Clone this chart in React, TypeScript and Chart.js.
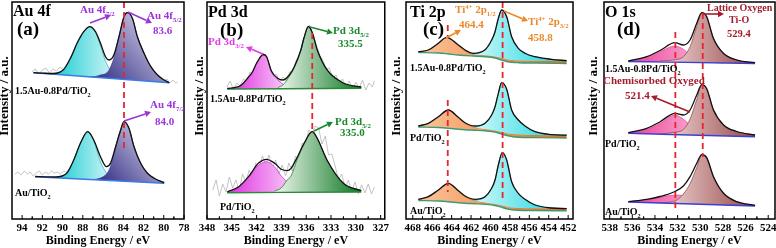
import React, { useEffect, useRef } from "react";
import { Chart, registerables } from "chart.js";

Chart.register(...registerables);

type P = [number, number];
const FONT = "'Liberation Serif', 'Times New Roman', Times, serif";

// ---------------- (a) Au 4f ----------------
const aTopBase: P[] = [[92.88, 145.3], [79.46, 135.3]];
const aTopCyan: P[] = [[90.9, 144.2], [89.9, 148], [89.23, 159.5], [88.57, 174.5], [87.91, 186], [87.31, 191], [86.75, 185.5], [86.25, 172], [85.76, 157], [85.42, 150], [84.93, 142.5], [84.43, 139.6], [83.93, 138.7]];
const aTopPurple: P[] = [[87.31, 141.2], [86.75, 141.5], [86.25, 143.1], [85.76, 144.3], [85.42, 147.7], [84.93, 159.9], [84.43, 180.7], [83.93, 201.3], [83.6, 205.3], [83.1, 199.7], [82.61, 181.3], [81.95, 164.7], [81.28, 151.3], [80.62, 143], [79.96, 138], [79.46, 135.4]];
const aTopEnv: P[] = [[92.88, 145.3], [91.9, 144.8], [90.9, 144.5], [89.9, 148.5], [89.23, 159.7], [88.57, 174.7], [87.91, 186.3], [87.31, 191.3], [86.75, 186.3], [86.25, 174.7], [85.76, 161.3], [85.42, 158], [84.93, 163], [84.43, 181.3], [83.93, 201.3], [83.6, 205.3], [83.1, 199.7], [82.61, 181.3], [81.95, 164.7], [81.28, 151.3], [80.62, 143], [79.96, 138], [79.46, 135.3]];
const aTopRaw: P[] = [[93.05, 146], [92.7, 149], [92.35, 144], [92.0, 148], [91.65, 150], [91.3, 145], [90.95, 149], [90.6, 147], [90.25, 151], [89.9, 148], [89.6, 153], [89.3, 158], [89.0, 165], [88.7, 172], [88.4, 179], [88.1, 184], [87.8, 188], [87.5, 191], [87.2, 190], [86.9, 187], [86.6, 181], [86.3, 174], [86.0, 166], [85.7, 160], [85.4, 158], [85.1, 160], [84.8, 167], [84.5, 178], [84.2, 191], [83.9, 201], [83.6, 205], [83.3, 203], [83.0, 196], [82.7, 185], [82.4, 176], [82.1, 168], [81.8, 161], [81.5, 155], [81.2, 151], [80.9, 146], [80.6, 143], [80.3, 141], [80.0, 137], [79.7, 139], [79.4, 135], [79.1, 138], [78.8, 135], [78.63, 136]];

const aBotBase: P[] = [[92.71, 41.3], [79.96, 34.7]];
const aBotCyan: P[] = [[90.7, 40.4], [89.57, 45], [88.9, 58], [88.24, 74.7], [87.51, 86.3], [86.92, 76.5], [86.25, 56], [85.66, 45], [85.26, 40.5], [84.76, 38.2], [84.26, 37]];
const aBotPurple: P[] = [[86.92, 38.4], [86.25, 40], [85.66, 44], [85.26, 51.6], [84.76, 70.3], [84.26, 88], [83.93, 96.3], [83.44, 89.7], [82.94, 71.3], [82.28, 54.7], [81.61, 44.7], [80.95, 39.7], [79.96, 35]];
const aBotEnv: P[] = [[92.71, 41.5], [91.7, 41.2], [90.7, 41], [89.57, 45], [88.9, 58], [88.24, 74.7], [87.51, 86.3], [86.92, 78], [86.25, 61.3], [85.66, 51.3], [85.26, 54.7], [84.76, 71.3], [84.26, 88], [83.93, 96.3], [83.44, 89.7], [82.94, 71.3], [82.28, 54.7], [81.61, 44.7], [80.95, 39.7], [79.96, 35.2]];
const aBotRaw: P[] = [[94.7, 44], [94.4, 46], [94.1, 43], [93.8, 47], [93.5, 44], [93.2, 46], [92.9, 42], [92.6, 45], [92.3, 47], [92.0, 43], [91.7, 46], [91.4, 44], [91.1, 47], [90.8, 45], [90.5, 46], [90.2, 44], [89.9, 47], [89.6, 46], [89.3, 50], [89.0, 55], [88.7, 63], [88.4, 71], [88.1, 78], [87.8, 84], [87.5, 87], [87.2, 84], [86.9, 77], [86.6, 68], [86.3, 61], [86.0, 55], [85.7, 51], [85.4, 53], [85.1, 60], [84.8, 70], [84.5, 81], [84.2, 91], [83.9, 96], [83.6, 93], [83.3, 85], [83.0, 74], [82.7, 63], [82.4, 56], [82.1, 50], [81.8, 46], [81.5, 43], [81.2, 41], [80.9, 39], [80.6, 38], [80.3, 37], [79.9, 36]];
const aDash: P[] = [[83.93, 216], [83.93, 70]];

// ---------------- (b) Pd 3d ----------------
const bTopBase: P[] = [[345.55, 129], [329.34, 129.7]];
const bTopMag: P[] = [[345.0, 129.5], [344.16, 131], [343.77, 133], [342.98, 140.5], [342.58, 144.5], [341.99, 154.5], [341.2, 163], [340.8, 161], [340.21, 146], [339.42, 138], [338.83, 134], [338.04, 131], [337.44, 129.8]];
const bTopGreen: P[] = [[339.42, 130.5], [338.83, 133], [338.04, 141.5], [337.44, 150.5], [336.65, 167.5], [336.26, 180], [335.74, 191.3], [335.27, 185], [334.67, 168], [333.49, 148], [331.51, 134.7], [329.34, 130.7]];
const bTopEnv: P[] = [[345.55, 129.5], [344.16, 131.5], [343.77, 133.5], [342.98, 141], [342.58, 145], [341.99, 155], [341.2, 163.5], [340.8, 161.5], [340.21, 147], [339.42, 139.5], [338.83, 138], [338.04, 143], [337.44, 151.3], [336.65, 168], [336.26, 180.5], [335.74, 191.5], [335.27, 185.5], [334.67, 168.3], [333.49, 148.3], [331.51, 135], [329.34, 131]];
const bTopRaw: P[] = [[345.6, 131], [345.2, 137], [344.8, 128], [344.4, 135], [344.0, 132], [343.6, 139], [343.2, 136], [342.8, 146], [342.4, 144], [342.0, 156], [341.6, 158], [341.2, 165], [340.8, 159], [340.4, 152], [340.0, 141], [339.6, 144], [339.2, 136], [338.8, 141], [338.4, 137], [338.0, 146], [337.6, 147], [337.2, 158], [336.8, 163], [336.4, 177], [336.0, 186], [335.6, 193], [335.2, 183], [334.8, 174], [334.4, 163], [334.0, 158], [333.6, 149], [333.2, 150], [332.8, 140], [332.4, 143], [332.0, 135], [331.6, 139], [331.2, 131], [330.8, 137], [330.4, 129], [330.0, 136], [329.6, 130], [329.2, 138], [328.8, 128], [328.4, 135], [328.0, 131], [327.75, 137]];

const bBotBase: P[] = [[345.55, 25.3], [329.34, 26]];
const bBotMag: P[] = [[345.55, 25.5], [344.16, 30.5], [342.98, 40], [341.79, 52.5], [340.8, 56.3], [339.81, 51], [339.02, 42], [338.31, 36], [337.84, 30], [337.05, 27], [336.26, 25.8]];
const bBotGreen: P[] = [[339.81, 27], [339.02, 30], [338.31, 38], [337.84, 42], [337.05, 59.5], [336.26, 73.5], [335.27, 86.3], [334.67, 79.7], [333.49, 58], [331.51, 34.7], [329.34, 27.3]];
const bBotEnv: P[] = [[345.55, 26], [344.16, 31.3], [342.98, 41.3], [341.79, 54.7], [340.8, 58.7], [339.81, 54.7], [339.02, 48.7], [338.31, 47.3], [337.84, 49.7], [337.05, 61.3], [336.26, 74.7], [335.27, 86.3], [334.67, 79.7], [333.49, 58], [331.51, 34.7], [329.34, 27.3]];
const bBotRaw: P[] = [[347.3, 28], [346.9, 38], [346.5, 22], [346.1, 34], [345.7, 26], [345.3, 41], [344.9, 30], [344.5, 38], [344.1, 27], [343.7, 44], [343.3, 36], [342.9, 48], [342.5, 40], [342.1, 55], [341.7, 50], [341.3, 62], [340.9, 54], [340.5, 63], [340.1, 49], [339.7, 58], [339.3, 44], [338.9, 53], [338.5, 42], [338.1, 55], [337.7, 47], [337.3, 62], [336.9, 58], [336.5, 75], [336.1, 72], [335.7, 88], [335.3, 84], [334.9, 92], [334.5, 90], [334.1, 74], [333.7, 82], [333.3, 63], [332.9, 64], [332.5, 52], [332.1, 38], [331.7, 44], [331.3, 30], [330.9, 38], [330.5, 26], [330.1, 36], [329.7, 24], [329.3, 33], [328.9, 25], [328.5, 34], [328.1, 24], [327.75, 31]];
const bDash: P[] = [[335.27, 185], [335.27, 86]];

// ---------------- (c) Ti 2p ----------------
const cTopBase: P[] = [[467.43, 165.5], [465.37, 165], [464.51, 164.3], [463.31, 163], [462.62, 162.5], [461.77, 162], [460.56, 161.3], [459.53, 160], [458.85, 158], [458.33, 156.5], [457.82, 155.7], [457.13, 155.3], [455.41, 155], [452.15, 154.5]];
const cTopOrange: P[] = [[467.43, 166.2], [466.4, 167.8], [465.37, 174.5], [464.51, 180.5], [463.31, 172.5], [462.62, 167], [461.77, 163.8], [460.56, 162.8], [459.53, 161.5], [458.85, 160], [458.33, 158.8], [457.82, 158], [457.13, 157.6], [455.41, 157.2], [452.15, 156.8]];
const cTopCyan: P[] = [[461.77, 163.9], [460.56, 168], [459.88, 177.5], [459.53, 186], [459.19, 199.5], [458.85, 208], [458.33, 201.3], [457.82, 181.3], [457.13, 169.7], [456.44, 164.5], [455.41, 161], [453.7, 158.5], [452.15, 157.2]];
const cTopEnv: P[] = [[467.43, 166.3], [466.4, 168], [465.37, 174.7], [464.51, 180.7], [463.31, 173], [462.62, 168], [461.77, 164.7], [460.56, 168.2], [459.88, 178], [459.53, 186.3], [459.19, 199.7], [458.85, 208], [458.33, 201.3], [457.82, 181.3], [457.13, 169.7], [456.44, 164.7], [455.41, 161.3], [453.7, 158.7], [452.15, 157.3]];

const cMidBase: P[] = [[467.43, 91], [465.37, 90.5], [464.34, 89.8], [463.31, 88.8], [462.62, 88.3], [461.59, 87.8], [460.56, 87.2], [459.53, 86], [458.85, 84], [458.33, 82.5], [457.82, 81.5], [457.13, 80.8], [455.41, 80.4], [452.15, 80]];
const cMidOrange: P[] = [[467.43, 92], [466.4, 94.5], [465.37, 101], [464.34, 107.8], [463.31, 100.3], [462.62, 94.5], [461.59, 90.5], [460.56, 89], [459.53, 87.6], [458.85, 86], [458.33, 84.8], [457.82, 84], [457.13, 83.5], [455.41, 83.1], [452.15, 82.7]];
const cMidCyan: P[] = [[461.59, 90.6], [460.56, 94.5], [459.88, 103], [459.53, 111.3], [459.19, 124.7], [458.85, 135.3], [458.33, 128.7], [457.82, 108], [457.13, 98], [456.44, 91.8], [455.41, 86.3], [453.7, 83.4], [452.15, 82.8]];
const cMidEnv: P[] = [[467.43, 92], [466.4, 94.7], [465.37, 101.3], [464.34, 108], [463.31, 100.7], [462.62, 95.3], [461.59, 92], [460.56, 94.7], [459.88, 103], [459.53, 111.3], [459.19, 124.7], [458.85, 135.3], [458.33, 128.7], [457.82, 108], [457.13, 98], [456.44, 92], [455.41, 86.3], [453.7, 83.4], [452.15, 82.8]];

const cBotBase: P[] = [[467.43, 17.5], [465.37, 17], [464.34, 16.3], [463.31, 15.3], [462.62, 14.8], [461.59, 14.3], [460.56, 13.7], [459.53, 12.5], [458.78, 10.5], [458.33, 9.2], [457.82, 8.3], [457.13, 7.8], [455.41, 7.5], [452.15, 7.2]];
const cBotOrange: P[] = [[467.43, 18.7], [466.4, 21], [465.37, 27.7], [464.34, 34.5], [463.31, 27], [462.62, 21.5], [461.59, 17.2], [460.56, 15.6], [459.53, 14], [458.78, 12.5], [458.33, 11.3], [457.82, 10.5], [457.13, 10], [455.41, 9.7], [452.15, 9.3]];
const cBotCyan: P[] = [[461.59, 17.3], [460.56, 21], [459.88, 29.5], [459.53, 38], [459.19, 53], [458.78, 65.3], [458.33, 58], [457.82, 36.3], [457.13, 24.7], [456.44, 18.5], [455.41, 13], [453.7, 10], [452.15, 9.4]];
const cBotEnv: P[] = [[467.43, 18.7], [466.4, 21.3], [465.37, 28], [464.34, 34.7], [463.31, 27.3], [462.62, 22], [461.59, 18.7], [460.56, 21.3], [459.88, 29.7], [459.53, 38], [459.19, 53], [458.78, 65.3], [458.33, 58], [457.82, 36.3], [457.13, 24.7], [456.44, 18.7], [455.41, 13], [453.7, 10], [452.15, 9.4]];
const cDashO1: P[] = [[464.4, 193], [464.4, 181]];
const cDashO2: P[] = [[464.4, 118], [464.4, 26]];
const cDashC: P[] = [[458.75, 216], [458.75, 18]];

// ---------------- (d) O 1s ----------------
const dTopBase: P[] = [[536.35, 156.5], [525.16, 154.5]];
const dTopPink: P[] = [[536.35, 157], [534.73, 160.7], [533.55, 166.3], [532.23, 172], [531.49, 168.7], [530.9, 163], [530.31, 158.7], [529.43, 156.3], [528.84, 155.5], [527.96, 155.1]];
const dTopBrown: P[] = [[533.55, 157], [532.23, 158.3], [531.49, 161.3], [530.9, 171.3], [530.31, 191.5], [529.87, 204.7], [529.43, 201], [528.84, 179.7], [527.96, 164.7], [526.78, 158], [525.16, 155.3]];
const dTopEnv: P[] = [[536.35, 157], [534.73, 161.3], [533.55, 167.5], [532.23, 175.3], [531.49, 173], [530.9, 178], [530.31, 194.7], [529.87, 205.3], [529.43, 201.3], [528.84, 179.7], [527.96, 164.7], [526.78, 158], [525.16, 155.3]];

const dMidBase: P[] = [[536.35, 84.7], [525.16, 81.3]];
const dMidPink: P[] = [[536.35, 85.3], [534.73, 88.7], [533.55, 94.7], [532.23, 103], [531.49, 98.7], [530.9, 93], [530.31, 88], [529.43, 85.3], [528.84, 84], [527.96, 83]];
const dMidBrown: P[] = [[533.55, 84], [532.23, 85.8], [531.49, 88.5], [530.9, 99], [530.31, 118.5], [529.87, 133], [529.43, 129], [528.84, 108], [527.96, 93], [526.78, 86.3], [525.16, 83]];
const dMidEnv: P[] = [[536.35, 85.3], [534.73, 89.7], [533.55, 96.3], [532.23, 104.7], [531.49, 103], [530.9, 108], [530.31, 123], [529.87, 133.3], [529.43, 129.3], [528.84, 108.3], [527.96, 93.3], [526.78, 86.5], [525.16, 83]];

const dBotBase: P[] = [[536.35, 16], [525.16, 12]];
const dBotPink: P[] = [[536.35, 16.3], [534.73, 18], [533.55, 20.7], [532.08, 23], [530.9, 20.7], [530.31, 18.7], [529.43, 16.3], [528.84, 15], [527.96, 14]];
const dBotBrown: P[] = [[533.55, 15.2], [532.23, 17], [531.49, 24], [530.9, 34.5], [530.31, 50.5], [529.87, 63], [529.43, 60], [528.84, 41.3], [527.96, 24.7], [526.78, 16.3], [525.16, 12.5]];
const dBotEnv: P[] = [[536.35, 16.3], [534.73, 18.7], [533.55, 21.5], [532.23, 26.5], [531.49, 32], [530.9, 41.3], [530.31, 54.7], [529.87, 63.3], [529.43, 60.3], [528.84, 41.6], [527.96, 25], [526.78, 16.3], [525.16, 12.6]];
const dDashBrown: P[] = [[529.78, 205], [529.78, 61]];
const dDashPink: P[] = [[532.2, 186], [532.2, 8]];

// ---------------- styling / layout ----------------
const VIOLET = "#9b35d8";
const MAG = "#e33be3";
const GREEN = "#16892a";
const ORANGE = "#ec8a2c";
const DRED = "#a51d2d";

type Comp = { pts: P[]; c0: string; c1: string; mode: string; line: string; onPrev?: boolean };
type Spec = { base: P[]; baseColor: string; comps: Comp[]; env: P[]; raw?: P[] };
type Seg = [string, string?];
type Txt = { x: number; y: number; s: number; c?: string; segs: Seg[] };

const cyanA = (pts: P[]): Comp => ({ pts, c0: "#19ccd3", c1: "#effcfc", mode: "h", line: "#17b6bd" });
const purpA = (pts: P[]): Comp => ({ pts, c0: "#28257f", c1: "#efeaf9", mode: "d", line: "#463a9a" });
const magB = (pts: P[]): Comp => ({ pts, c0: "#e12fe1", c1: "#fce6fc", mode: "h", line: "#d21fd2" });
const greenB = (pts: P[]): Comp => ({ pts, c0: "#f0f9f0", c1: "#0a7520", mode: "h", line: "#0a7520" });
const orangeC = (pts: P[]): Comp => ({ pts, c0: "#fac59c", c1: "#ec6a1c", mode: "h", line: "#e0691f" });
const cyanC = (pts: P[]): Comp => ({ pts, c0: "#cdf8f9", c1: "#0fd4de", mode: "h", line: "#0fc4ce", onPrev: true });
const pinkD = (pts: P[]): Comp => ({ pts, c0: "#ef3d97", c1: "#fad3e6", mode: "h", line: "#e0408f" });
const brownD = (pts: P[]): Comp => ({ pts, c0: "#f4dcdc", c1: "#964646", mode: "h", line: "#8a3f3f" });

const sample = (a: string): Seg[] => [[a], ["2", "sub"]];

const PANELS = [
  {
    key: "a", left: 0, width: 198, frameL: 12, frameR: 184, xMin: 78, xMax: 95, step: 2, yTitleX: 5,
    specs: [
      { base: aTopBase, baseColor: "#3a7be6", comps: [cyanA(aTopCyan), purpA(aTopPurple)], env: aTopEnv, raw: aTopRaw },
      { base: aBotBase, baseColor: "#3a7be6", comps: [cyanA(aBotCyan), purpA(aBotPurple)], env: aBotEnv, raw: aBotRaw },
    ] as Spec[],
    dashes: [aDash],
    texts: [
      { x: 13, y: 16, s: 16, segs: [["Au 4f"]] },
      { x: 17, y: 35, s: 19, segs: [["(a)"]] },
      { x: 80, y: 13, s: 11, c: VIOLET, segs: [["Au 4f"], ["7/2", "sub"]] },
      { x: 147, y: 19, s: 11, c: VIOLET, segs: [["Au 4f"], ["5/2", "sub"]] },
      { x: 153, y: 34, s: 11, c: VIOLET, segs: [["83.6"]] },
      { x: 150, y: 108, s: 11, c: VIOLET, segs: [["Au 4f"], ["7/2", "sub"]] },
      { x: 155, y: 125, s: 11, c: VIOLET, segs: [["84.0"]] },
      { x: 15, y: 94, s: 10, segs: sample("1.5Au-0.8Pd/TiO") },
      { x: 15, y: 196, s: 10, segs: sample("Au/TiO") },
    ] as Txt[],
    arrows: [[90, 23, 111, 15], [128, 12, 152, 23], [124, 121, 151, 112]],
    arrowColor: VIOLET,
  },
  {
    key: "b", left: 188, width: 204, frameL: 207, frameR: 387, xMin: 326.5, xMax: 348, step: 3, yTitleX: 200,
    specs: [
      { base: bTopBase, baseColor: "#2a8a3a", comps: [magB(bTopMag), greenB(bTopGreen)], env: bTopEnv, raw: bTopRaw },
      { base: bBotBase, baseColor: "#2a8a3a", comps: [magB(bBotMag), greenB(bBotGreen)], env: bBotEnv, raw: bBotRaw },
    ] as Spec[],
    dashes: [bDash],
    texts: [
      { x: 208, y: 17, s: 16, segs: [["Pd 3d"]] },
      { x: 220, y: 36, s: 19, segs: [["(b)"]] },
      { x: 208, y: 45, s: 11, c: MAG, segs: [["Pd 3d"], ["3/2", "sub"]] },
      { x: 333, y: 34, s: 11, c: GREEN, segs: [["Pd 3d"], ["5/2", "sub"]] },
      { x: 338, y: 47, s: 11, c: GREEN, segs: [["335.5"]] },
      { x: 335, y: 125, s: 11, c: GREEN, segs: [["Pd 3d"], ["5/2", "sub"]] },
      { x: 340, y: 136, s: 11, c: GREEN, segs: [["335.0"]] },
      { x: 210, y: 102, s: 10, segs: sample("1.5Au-0.8Pd/TiO") },
      { x: 220, y: 210, s: 10, segs: sample("Pd/TiO") },
    ] as Txt[],
    arrows: [[263, 54, 246, 47, MAG], [310, 27, 333, 33, GREEN], [314, 131, 333, 122, GREEN]],
    arrowColor: GREEN,
  },
  {
    key: "c", left: 386, width: 204, frameL: 406, frameR: 573, xMin: 451.5, xMax: 468.7, step: 2, yTitleX: 397,
    specs: [
      { base: cTopBase, baseColor: "#3d9b73", comps: [orangeC(cTopOrange), cyanC(cTopCyan)], env: cTopEnv },
      { base: cMidBase, baseColor: "#3d9b73", comps: [orangeC(cMidOrange), cyanC(cMidCyan)], env: cMidEnv },
      { base: cBotBase, baseColor: "#3d9b73", comps: [orangeC(cBotOrange), cyanC(cBotCyan)], env: cBotEnv },
    ] as Spec[],
    dashes: [cDashO1, cDashO2, cDashC],
    texts: [
      { x: 410, y: 17, s: 16, segs: [["Ti 2p"]] },
      { x: 423, y: 35, s: 19, segs: [["(c)"]] },
      { x: 455, y: 13, s: 11, c: ORANGE, segs: [["Ti"], ["4+", "sup"], [" 2p"], ["1/2", "sub"]] },
      { x: 459, y: 28, s: 11, c: ORANGE, segs: [["464.4"]] },
      { x: 528, y: 25, s: 11, c: ORANGE, segs: [["Ti"], ["4+", "sup"], [" 2p"], ["3/2", "sub"]] },
      { x: 528, y: 41, s: 11, c: ORANGE, segs: [["458.8"]] },
      { x: 410, y: 71, s: 10, segs: sample("1.5Au-0.8Pd/TiO") },
      { x: 410, y: 141, s: 10, segs: sample("Pd/TiO") },
      { x: 410, y: 214, s: 10, segs: sample("Au/TiO") },
    ] as Txt[],
    arrows: [[446, 38, 461, 30], [504, 11, 528, 21]],
    arrowColor: ORANGE,
  },
  {
    key: "d", left: 584, width: 202, frameL: 604, frameR: 775, xMin: 523.4, xMax: 538.5, step: 2, yTitleX: 594,
    specs: [
      { base: dTopBase, baseColor: "#3b3fd6", comps: [pinkD(dTopPink), brownD(dTopBrown)], env: dTopEnv },
      { base: dMidBase, baseColor: "#3b3fd6", comps: [pinkD(dMidPink), brownD(dMidBrown)], env: dMidEnv },
      { base: dBotBase, baseColor: "#3b3fd6", comps: [pinkD(dBotPink), brownD(dBotBrown)], env: dBotEnv },
    ] as Spec[],
    dashes: [dDashBrown, dDashPink],
    texts: [
      { x: 605, y: 17, s: 16, segs: [["O 1s"]] },
      { x: 617, y: 35, s: 19, segs: [["(d)"]] },
      { x: 707, y: 11, s: 10, c: DRED, segs: [["Lattice Oxygen"]] },
      { x: 729, y: 23, s: 10, c: DRED, segs: [["Ti-O"]] },
      { x: 727, y: 37, s: 10.5, c: DRED, segs: [["529.4"]] },
      { x: 603, y: 84, s: 11, c: DRED, segs: [["Chemisorbed Oxyged"]] },
      { x: 625, y: 99, s: 11, c: DRED, segs: [["521.4"]] },
      { x: 605, y: 72, s: 10, segs: sample("1.5Au-0.8Pd/TiO") },
      { x: 605, y: 147, s: 10, segs: sample("Pd/TiO") },
      { x: 605, y: 215, s: 10, segs: sample("Au/TiO") },
    ] as Txt[],
    arrows: [[703, 14, 724, 14], [690, 112, 651, 96]],
    arrowColor: DRED,
  },
];

type Panel = (typeof PANELS)[number];

const toXY = (pts: P[]) => pts.map(([x, y]) => ({ x, y }));

function gradFill(pts: P[], c0: string, c1: string, mode: string) {
  const es = pts.map((p) => p[0]);
  const vs = pts.map((p) => p[1]);
  const eMax = Math.max(...es), eMin = Math.min(...es);
  const vMin = Math.min(...vs), vMax = Math.max(...vs);
  return (context: any) => {
    const chart = context.chart;
    const xs = chart.scales && chart.scales.x;
    const ys = chart.scales && chart.scales.y;
    if (!chart.chartArea || !xs || !ys) return c0;
    const xl = xs.getPixelForValue(eMax), xr = xs.getPixelForValue(eMin);
    const yb = ys.getPixelForValue(vMin), yt = ys.getPixelForValue(vMax);
    const g = mode === "d"
      ? chart.ctx.createLinearGradient(xl, yb, xr, yt)
      : chart.ctx.createLinearGradient(xl, 0, xr, 0);
    g.addColorStop(0, c0);
    g.addColorStop(1, c1);
    return g;
  };
}

function buildDatasets(specs: Spec[], dashes: P[][]) {
  const out: any[] = [];
  for (const s of specs) {
    if (s.raw) {
      out.push({ data: toXY(s.raw), borderColor: "#b4b4b4", borderWidth: 0.8, fill: false, order: 60, cubicInterpolationMode: "default", tension: 0 });
    }
    const bi = out.length;
    out.push({ data: toXY(s.base), borderColor: s.baseColor, borderWidth: 1.4, fill: false, order: 30 });
    let prev = bi;
    s.comps.forEach((c, k) => {
      const idx = out.length;
      out.push({
        data: toXY(c.pts),
        borderColor: c.line,
        borderWidth: 0.7,
        backgroundColor: gradFill(c.pts, c.c0, c.c1, c.mode),
        fill: { target: c.onPrev ? prev : bi },
        order: 45 - k,
      });
      prev = idx;
    });
    out.push({ data: toXY(s.env), borderColor: "#111", borderWidth: 1.3, fill: false, order: 20 });
  }
  for (const d of dashes) {
    out.push({ data: toXY(d), borderColor: "#e8242e", borderWidth: 1.8, borderDash: [6, 4], fill: false, order: 10, cubicInterpolationMode: "default", tension: 0 });
  }
  return out;
}

function drawRich(ctx: CanvasRenderingContext2D, x: number, y: number, size: number, color: string, segs: Seg[]) {
  let cx = x;
  ctx.textAlign = "left";
  ctx.textBaseline = "alphabetic";
  ctx.fillStyle = color;
  for (const [t, mode] of segs) {
    const s = mode ? size * 0.62 : size;
    ctx.font = `bold ${s}px ${FONT}`;
    const dy = mode === "sub" ? size * 0.28 : mode === "sup" ? -size * 0.4 : 0;
    ctx.fillText(t, cx, y + dy);
    cx += ctx.measureText(t).width;
  }
}

function drawArrow(ctx: CanvasRenderingContext2D, x0: number, y0: number, x1: number, y1: number, color: string) {
  const a = Math.atan2(y1 - y0, x1 - x0);
  const hl = 6, hw = 3.2;
  const bx = x1 - hl * Math.cos(a), by = y1 - hl * Math.sin(a);
  ctx.strokeStyle = color;
  ctx.fillStyle = color;
  ctx.lineWidth = 1.6;
  ctx.beginPath();
  ctx.moveTo(x0, y0);
  ctx.lineTo(bx, by);
  ctx.stroke();
  ctx.beginPath();
  ctx.moveTo(x1, y1);
  ctx.lineTo(bx + hw * Math.sin(a), by - hw * Math.cos(a));
  ctx.lineTo(bx - hw * Math.sin(a), by + hw * Math.cos(a));
  ctx.closePath();
  ctx.fill();
}

function makeDecor(panel: Panel) {
  return {
    id: "decor" + panel.key,
    afterDraw(chart: any) {
      const { ctx, chartArea: ca } = chart;
      const xs = chart.scales.x;
      const off = panel.left;
      ctx.save();
      ctx.strokeStyle = "#000";
      ctx.lineWidth = 1.5;
      ctx.strokeRect(ca.left, ca.top, ca.right - ca.left, ca.bottom - ca.top);
      ctx.lineWidth = 1;
      const vals: number[] = xs.ticks.map((t: any) => t.value);
      for (const v of vals) {
        const px = xs.getPixelForValue(v);
        ctx.beginPath();
        ctx.moveTo(px, ca.bottom);
        ctx.lineTo(px, ca.bottom - 4);
        ctx.stroke();
        for (const m of [v - panel.step / 2, v + panel.step / 2]) {
          if (m > panel.xMin && m < panel.xMax) {
            const pm = xs.getPixelForValue(m);
            ctx.beginPath();
            ctx.moveTo(pm, ca.bottom);
            ctx.lineTo(pm, ca.bottom - 2.5);
            ctx.stroke();
          }
        }
      }
      // y title
      ctx.save();
      ctx.translate(panel.yTitleX - off, 96);
      ctx.rotate(-Math.PI / 2);
      ctx.font = `bold 13px ${FONT}`;
      ctx.fillStyle = "#000";
      ctx.textAlign = "center";
      ctx.textBaseline = "middle";
      ctx.fillText("Intensity / a.u.", 0, 0);
      ctx.restore();
      for (const t of panel.texts) drawRich(ctx, t.x - off, t.y, t.s, t.c || "#000", t.segs);
      for (const a of panel.arrows as any[]) drawArrow(ctx, a[0] - off, a[1], a[2] - off, a[3], a[4] || panel.arrowColor);
      ctx.restore();
    },
  };
}

function makeConfig(panel: Panel): any {
  return {
    type: "line",
    data: { datasets: buildDatasets(panel.specs, panel.dashes) },
    options: {
      responsive: false,
      animation: false,
      devicePixelRatio: 1,
      events: [],
      layout: { padding: { left: panel.frameL - panel.left, right: panel.left + panel.width - panel.frameR, top: 2, bottom: 0 } },
      plugins: { legend: { display: false }, tooltip: { enabled: false } },
      elements: { point: { radius: 0, hoverRadius: 0 }, line: { cubicInterpolationMode: "monotone" } },
      scales: {
        x: {
          type: "linear",
          reverse: true,
          min: panel.xMin,
          max: panel.xMax,
          grid: { display: false, drawTicks: false },
          border: { display: false },
          ticks: {
            stepSize: panel.step,
            autoSkip: false,
            maxRotation: 0,
            includeBounds: false,
            padding: 3,
            color: "#000",
            font: { family: FONT, size: 11, weight: "bold" },
            callback: (v: any) => String(Math.round(Number(v))),
          },
          title: {
            display: true,
            text: "Binding Energy / eV",
            color: "#000",
            font: { family: FONT, size: 12, weight: "bold" },
            padding: { top: 0, bottom: 0 },
          },
          afterFit: (s: any) => {
            s.height = 29;
          },
        },
        y: { type: "linear", min: -1, max: 216, display: false },
      },
    },
    plugins: [makeDecor(panel)],
  };
}

function PanelChart({ panel }: { panel: Panel }) {
  const ref = useRef<HTMLCanvasElement>(null);
  useEffect(() => {
    if (!ref.current) return;
    const chart = new Chart(ref.current, makeConfig(panel));
    return () => chart.destroy();
  }, [panel]);
  return (
    <canvas
      ref={ref}
      width={panel.width}
      height={248}
      style={{ position: "absolute", left: panel.left, top: 0, width: panel.width, height: 248 }}
    />
  );
}

export default function App() {
  return (
    <div style={{ position: "fixed", left: 0, top: 0, width: 776, height: 248, background: "#fff", overflow: "hidden" }}>
      {PANELS.map((p) => (
        <PanelChart key={p.key} panel={p} />
      ))}
    </div>
  );
}
